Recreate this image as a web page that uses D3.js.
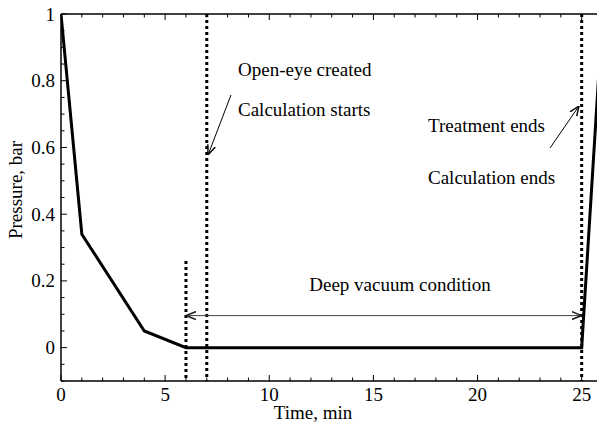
<!DOCTYPE html>
<html><head><meta charset="utf-8">
<script src="https://cdn.jsdelivr.net/npm/d3@7"></script>
<style>body{margin:0;background:#fff}text{font-family:"Liberation Serif","Times New Roman",serif;fill:#000}</style>
</head><body><svg id="c" width="597" height="427"></svg>
<script>
const timeMin = [0, 1, 4, 6, 25, 26];
const pressureBar = [1, 0.34, 0.05, 0, 0, 1];
const markerTimes = [6, 7, 25];
const markerTops = [0.26, 1, 1];
const xTicks = [0, 5, 10, 15, 20, 25];
const yTicks = [0, 0.2, 0.4, 0.6, 0.8, 1];
const yTickLabels = ["0", "0.2", "0.4", "0.6", "0.8", "1"];

const svg = d3.select("#c");
const L = 61, T = 14, R = 602.5, B = 381;
const x = d3.scaleLinear().domain([0, 26]).range([L, R]);
const y = d3.scaleLinear().domain([-0.1, 1]).range([B, T]);

const defs = svg.append("defs");
defs.append("marker").attr("id","ah").attr("viewBox","0 0 10 10").attr("refX",10).attr("refY",5)
  .attr("markerWidth",10).attr("markerHeight",10).attr("markerUnits","userSpaceOnUse").attr("orient","auto-start-reverse")
  .append("path").attr("d","M0,1 L10,5 L0,9").attr("fill","none").attr("stroke","#000").attr("stroke-width",1.4);
defs.append("marker").attr("id","ah2").attr("viewBox","0 0 10 10").attr("refX",10).attr("refY",5)
  .attr("markerWidth",10).attr("markerHeight",10).attr("markerUnits","userSpaceOnUse").attr("orient","auto-start-reverse")
  .append("path").attr("d","M0,1 L10,5 L0,9").attr("fill","none").attr("stroke","#222").attr("stroke-width",1.6);

const clip = defs.append("clipPath").attr("id","pc");
clip.append("rect").attr("x",L).attr("y",T).attr("width",R-L).attr("height",B-T);

const minorX = d3.range(0, 27, 1);
const g = svg.append("g");
minorX.forEach(v => {
  const len = (v % 5 === 0) ? 6 : 3.5;
  g.append("line").attr("x1",x(v)).attr("x2",x(v)).attr("y1",B).attr("y2",B-len).attr("stroke","#000").attr("stroke-width",1);
  g.append("line").attr("x1",x(v)).attr("x2",x(v)).attr("y1",T).attr("y2",T+len).attr("stroke","#000").attr("stroke-width",1);
});
const minorY = d3.range(-0.1, 1.0001, 0.05).map(v => Math.round(v*100)/100);
minorY.forEach(v => {
  const major = yTicks.some(t => Math.abs(t - v) < 1e-6);
  const len = major ? 6 : 3.5;
  g.append("line").attr("x1",L).attr("x2",L+len).attr("y1",y(v)).attr("y2",y(v)).attr("stroke","#000").attr("stroke-width",1);
});

svg.append("line").attr("x1",L).attr("x2",L).attr("y1",T).attr("y2",B).attr("stroke","#000").attr("stroke-width",1.5);
svg.append("line").attr("x1",L).attr("x2",R).attr("y1",B).attr("y2",B).attr("stroke","#000").attr("stroke-width",1.5);
svg.append("line").attr("x1",L).attr("x2",R).attr("y1",T).attr("y2",T).attr("stroke","#000").attr("stroke-width",1.5);

svg.selectAll(".xl").data(xTicks).enter().append("text")
  .attr("x", d => x(d)).attr("y", 401).attr("text-anchor","middle").attr("font-size",19).text(d => d);
svg.selectAll(".yl").data(yTicks).enter().append("text")
  .attr("x", L - 6).attr("y", d => y(d) + 6.5).attr("text-anchor","end").attr("font-size",19)
  .text((d,i) => yTickLabels[i]);

svg.append("text").attr("x",313).attr("y",419).attr("text-anchor","middle").attr("font-size",19).text("Time, min");
svg.append("text").attr("transform","translate(22,190) rotate(-90)").attr("text-anchor","middle").attr("font-size",19).text("Pressure, bar");

svg.selectAll(".mk").data(markerTimes).enter().append("line")
  .attr("x1", d => x(d)).attr("x2", d => x(d))
  .attr("y1", (d,i) => y(markerTops[i])).attr("y2", B)
  .attr("stroke","#000").attr("stroke-width",3).attr("stroke-dasharray","3,3");

svg.append("path").attr("clip-path","url(#pc)")
  .datum(timeMin.map((t,i) => [t, pressureBar[i]]))
  .attr("d", d3.line().x(d => x(d[0])).y(d => y(d[1])))
  .attr("fill","none").attr("stroke","#000").attr("stroke-width",3).attr("stroke-linejoin","miter");

svg.append("line").attr("x1",x(6)).attr("x2",x(25)).attr("y1",y(0.096)).attr("y2",y(0.096))
  .attr("stroke","#444").attr("stroke-width",1)
  .attr("marker-start","url(#ah2)").attr("marker-end","url(#ah2)");
svg.append("text").attr("x",400).attr("y",291).attr("text-anchor","middle").attr("font-size",19).text("Deep vacuum condition");

svg.append("text").attr("x",238).attr("y",76).attr("font-size",19).text("Open-eye created");
svg.append("text").attr("x",238).attr("y",116).attr("font-size",19).text("Calculation starts");
svg.append("line").attr("x1",231).attr("y1",95).attr("x2",208).attr("y2",155)
  .attr("stroke","#000").attr("stroke-width",1).attr("marker-end","url(#ah)");

svg.append("text").attr("x",428).attr("y",132).attr("font-size",19).text("Treatment ends");
svg.append("text").attr("x",428).attr("y",184).attr("font-size",19).text("Calculation ends");
svg.append("line").attr("x1",550).attr("y1",148).attr("x2",579).attr("y2",106)
  .attr("stroke","#000").attr("stroke-width",1).attr("marker-end","url(#ah)");
</script></body></html>
